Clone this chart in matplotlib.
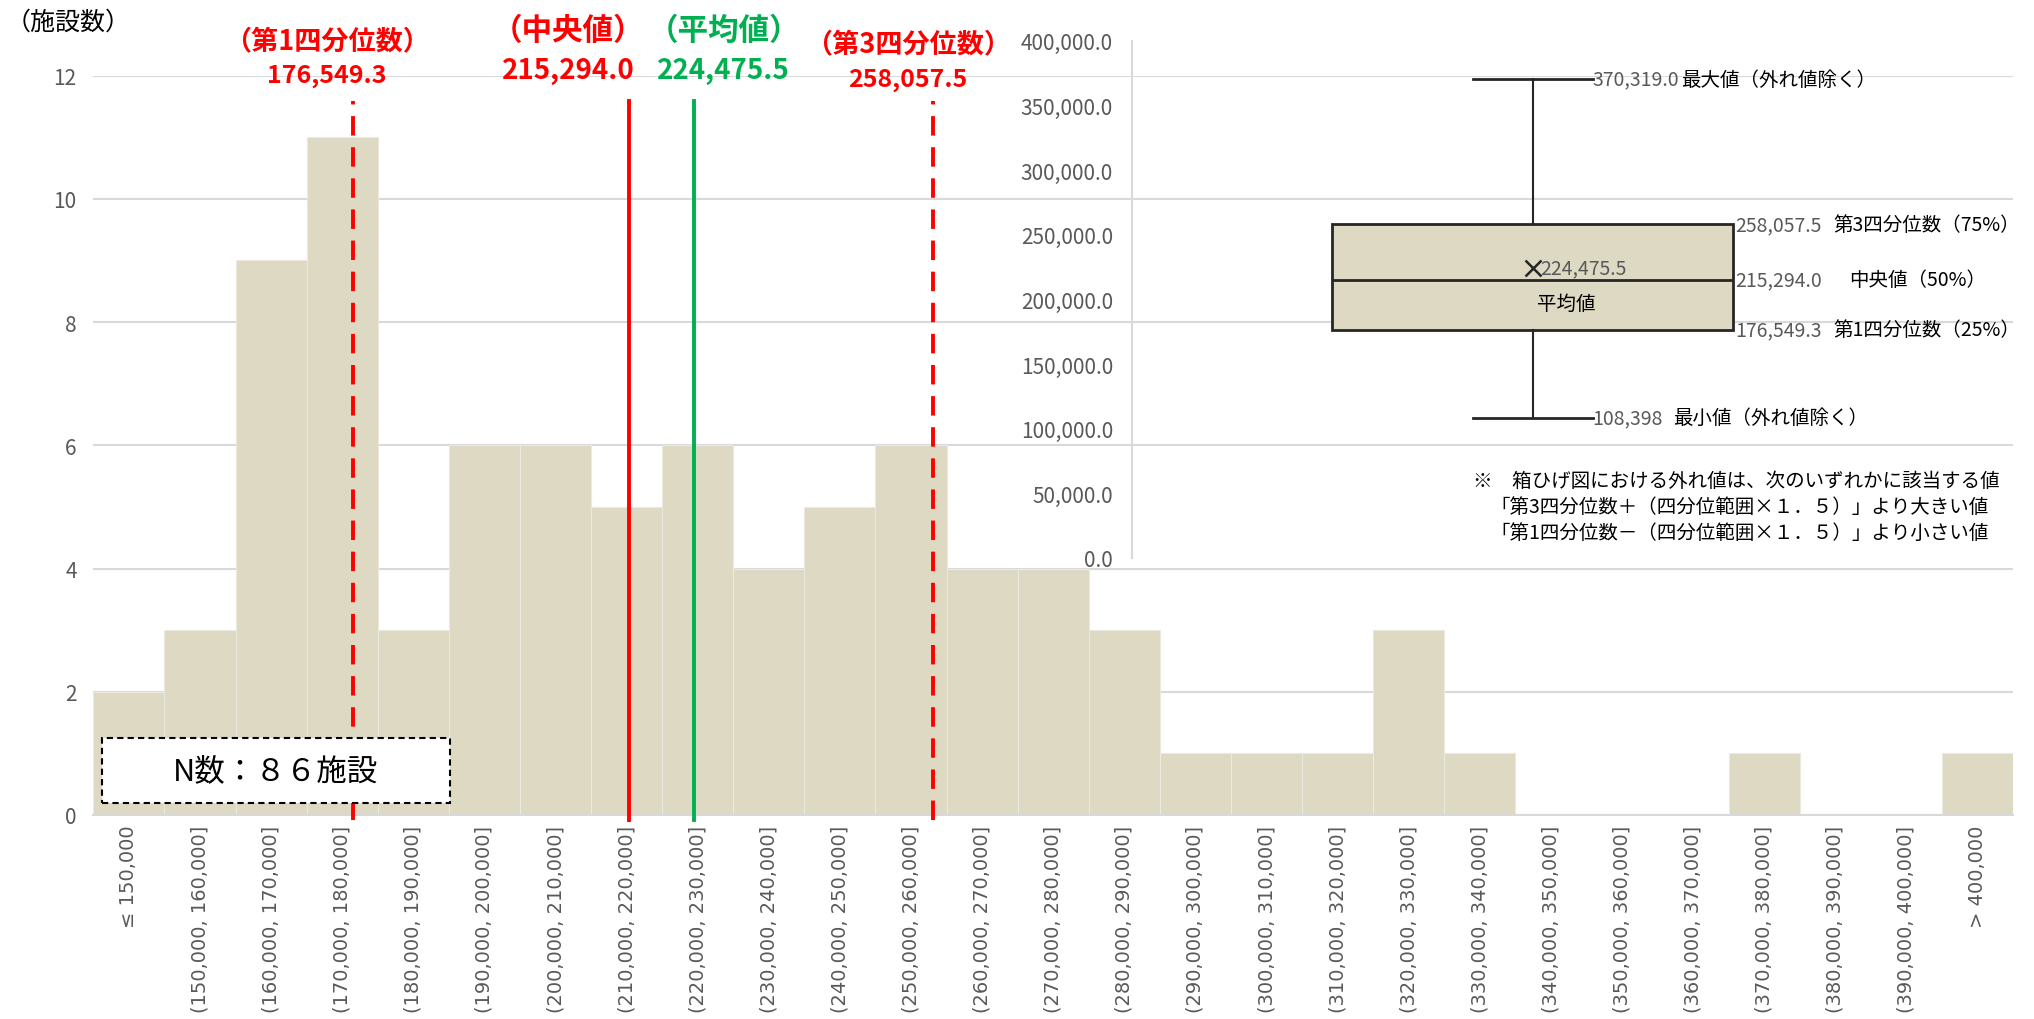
import matplotlib
matplotlib.use("Agg")
import matplotlib.pyplot as plt
import numpy as np
from matplotlib.patches import Rectangle

plt.rcParams['font.family'] = ['Noto Sans CJK JP', 'DejaVu Sans']

# data
bin_labels = ["≤ 150,000"] + [f"({a:,}, {a + 10000:,}]" for a in range(150000, 400000, 10000)] + ["> 400,000"]
counts = [2, 3, 9, 11, 3, 6, 6, 5, 6, 4, 5, 6, 4, 4, 3, 1, 1, 1, 3, 1, 0, 0, 0, 1, 0, 0, 1]
n_total = 86

q1 = 176549.3
median = 215294.0
mean = 224475.5
q3 = 258057.5
whisker_low = 108398
whisker_high = 370319.0

GRAY = '#595959'
GRID = '#D9D9D9'
TAN = '#DDD9C3'
RED = '#FF0000'
GREEN = '#00B050'


def to_bin_pos(v):
    # bar k covers (140000+10000k, 150000+10000k], drawn on [k-0.5, k+0.5]
    return (v - 140000) / 10000 - 0.5


fig = plt.figure(figsize=(20.34, 10.2), dpi=100)

# histogram
ax = fig.add_axes([0.0459, 0.2, 0.9438, 0.725])
x = np.arange(len(counts))
ax.bar(x, counts, width=1.0, color=TAN, edgecolor='#ECEAE0', linewidth=0.8, zorder=2)
ax.set_xlim(-0.5, len(counts) - 0.5)
ax.set_ylim(0, 12)
ax.set_yticks(range(0, 13, 2))
ax.set_xticks(x)
ax.set_xticklabels(bin_labels, rotation=90, family='DejaVu Sans', fontsize=14, color=GRAY)
ax.tick_params(axis='both', length=0)
ax.tick_params(axis='y', labelsize=15, labelcolor=GRAY, pad=12)
ax.tick_params(axis='x', pad=7)
ax.yaxis.grid(True, color=GRID, linewidth=1.5, zorder=0)
ax.set_axisbelow(True)
for s in ['top', 'right', 'left']:
    ax.spines[s].set_visible(False)
ax.spines['bottom'].set_color(GRID)
ax.spines['bottom'].set_linewidth(1.5)

# stat lines
for v, col, ls in [(q1, RED, (0, (5, 3))), (median, RED, '-'), (mean, GREEN, '-'), (q3, RED, (0, (5, 3)))]:
    ax.plot([to_bin_pos(v)] * 2, [-0.08, 11.58], color=col, linestyle=ls, linewidth=2.8, clip_on=False, zorder=4)

# headings above the chart
fig.text(0.1607, 0.959, "（第1四分位数）", color=RED, fontsize=19.5, fontweight='bold', ha='center', va='center')
fig.text(0.1607, 0.925, f"{q1:,.1f}", color=RED, fontsize=18, fontweight='bold', ha='center', va='center')
fig.text(0.2793, 0.970, "（中央値）", color=RED, fontsize=22, fontweight='bold', ha='center', va='center')
fig.text(0.2793, 0.930, f"{median:,.1f}", color=RED, fontsize=20, fontweight='bold', ha='center', va='center')
fig.text(0.3558, 0.970, "（平均値）", color=GREEN, fontsize=22, fontweight='bold', ha='center', va='center')
fig.text(0.3558, 0.930, f"{mean:,.1f}", color=GREEN, fontsize=20, fontweight='bold', ha='center', va='center')
fig.text(0.4464, 0.956, "（第3四分位数）", color=RED, fontsize=19.5, fontweight='bold', ha='center', va='center')
fig.text(0.4464, 0.922, f"{q3:,.1f}", color=RED, fontsize=18, fontweight='bold', ha='center', va='center')

fig.text(0.003, 0.978, "（施設数）", fontsize=18, ha='left', va='center')

# N box
ax.add_patch(Rectangle((0.0047, 0.016), 0.181, 0.0875, transform=ax.transAxes, facecolor='white',
                       edgecolor='black', linestyle=(0, (3, 2)), linewidth=1.5, zorder=5))
ax.text(0.095, 0.06, f"N数：{n_total}施設".translate(str.maketrans("0123456789", "０１２３４５６７８９")),
        transform=ax.transAxes, fontsize=22, ha='center', va='center', zorder=6)

# box plot inset
bx = fig.add_axes([0.5567, 0.452, 0.433, 0.507])
bx.patch.set_alpha(0)
stats = [dict(med=median, q1=q1, q3=q3, whislo=whisker_low, whishi=whisker_high, mean=mean, fliers=[])]
bx.bxp(stats, positions=[1], widths=[1.0], capwidths=[0.3], showmeans=True, patch_artist=True,
       boxprops=dict(facecolor=TAN, edgecolor='#262626', linewidth=2),
       medianprops=dict(color='#262626', linewidth=2),
       whiskerprops=dict(color='#262626', linewidth=1.5),
       capprops=dict(color='#262626', linewidth=2),
       meanprops=dict(marker='x', markeredgecolor='#262626', markersize=12, markeredgewidth=1.8))
bx.set_xlim(0, 2.2)
bx.set_ylim(0, 400000)
bx.set_yticks(range(0, 400001, 50000))
bx.set_yticklabels([f"{t:,.1f}" for t in range(0, 400001, 50000)])
bx.set_xticks([])
bx.tick_params(axis='y', length=0, labelsize=15, labelcolor=GRAY, pad=14)
for s in ['top', 'right', 'bottom']:
    bx.spines[s].set_visible(False)
bx.spines['left'].set_color(GRID)
bx.spines['left'].set_linewidth(1.5)

fs = 14
bx.text(1.15, whisker_high, f"{whisker_high:,.1f}", color=GRAY, fontsize=fs, va='center')
bx.text(1.37, whisker_high, "最大値（外れ値除く）", fontsize=fs, va='center')
bx.text(1.505, q3, f"{q3:,.1f}", color=GRAY, fontsize=fs, va='center')
bx.text(1.75, q3, "第3四分位数（75%）", fontsize=fs, va='center')
bx.text(1.505, median, f"{median:,.1f}", color=GRAY, fontsize=fs, va='center')
bx.text(1.79, median, "中央値（50%）", fontsize=fs, va='center')
bx.text(1.505, q1, f"{q1:,.1f}", color=GRAY, fontsize=fs, va='center')
bx.text(1.75, q1, "第1四分位数（25%）", fontsize=fs, va='center')
bx.text(1.15, whisker_low, f"{whisker_low:,}", color=GRAY, fontsize=fs, va='center')
bx.text(1.35, whisker_low, "最小値（外れ値除く）", fontsize=fs, va='center')
bx.text(1.02, mean, f"{mean:,.1f}", color=GRAY, fontsize=fs, va='center')
bx.text(1.085, 197000, "平均値", fontsize=fs, ha='center', va='center')

note = ["※　箱ひげ図における外れ値は、次のいずれかに該当する値",
        "「第3四分位数＋（四分位範囲×１．５）」より大きい値",
        "「第1四分位数－（四分位範囲×１．５）」より小さい値"]
bx.text(0.852, 60150, note[0], fontsize=14, va='center')
bx.text(0.895, 40100, note[1], fontsize=14, va='center')
bx.text(0.895, 20050, note[2], fontsize=14, va='center')

fig.savefig("out.png", dpi=100)
